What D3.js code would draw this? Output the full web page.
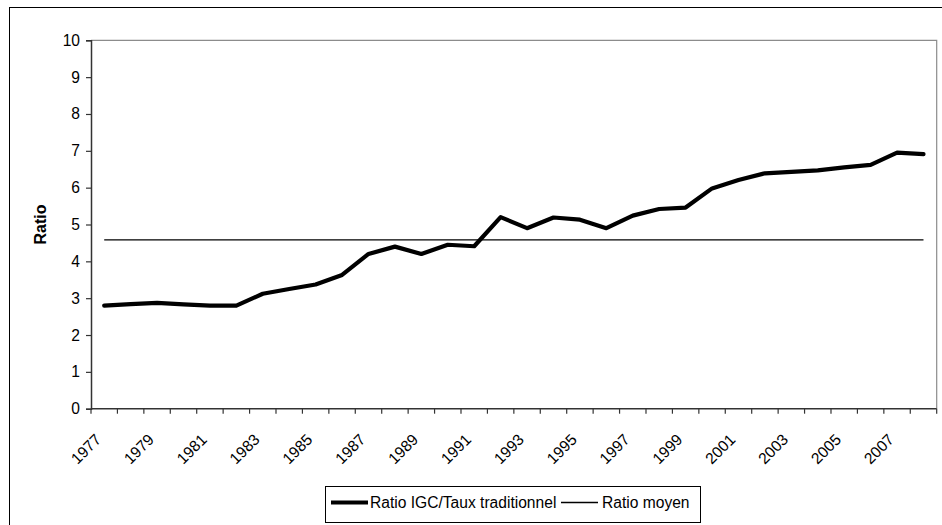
<!DOCTYPE html>
<html>
<head>
<meta charset="utf-8">
<script src="https://cdn.jsdelivr.net/npm/d3@7"></script>
<style>
  html, body { margin: 0; padding: 0; background: #fff; }
  svg { display: block; }
  text { font-family: "Liberation Sans", Arial, sans-serif; fill: #000; }
</style>
</head>
<body>
<svg id="chart" width="942" height="525"></svg>
<script>
// Years on the category axis
const years = d3.range(1977, 2009).map(String);

// Ratio IGC / taux traditionnel, one value per year
const ratioValues = [
  2.80, 2.84, 2.87, 2.83, 2.80, 2.80, 3.12, 3.25, 3.37, 3.63,
  4.20, 4.40, 4.20, 4.45, 4.41, 5.20, 4.90, 5.19, 5.13, 4.90,
  5.24, 5.42, 5.46, 5.98, 6.21, 6.39, 6.43, 6.47, 6.55, 6.62,
  6.95, 6.91
];

// Average ratio, drawn as a flat reference line
const meanRatio = 4.58;
const meanValues = years.map(() => meanRatio);

// Axis labels
const yTicks = [0, 1, 2, 3, 4, 5, 6, 7, 8, 9, 10];
const xTickLabels = years.filter((d, i) => i % 2 === 0);

const seriesNames = ["Ratio IGC/Taux traditionnel", "Ratio moyen"];
const yTitle = "Ratio";

const fontSize = "15.6px";
const svg = d3.select("#chart");

const plot = { left: 91, right: 936.7, top: 40.3, bottom: 408.7 };

const x = d3.scaleBand().domain(years).range([plot.left, plot.right]).padding(0);
const y = d3.scaleLinear().domain([0, 10]).range([plot.bottom, plot.top]);
const cx = d => x(d) + x.bandwidth() / 2;

// Outer chart frame (extends past the right and bottom edges)
svg.append("rect")
  .attr("x", 9.5).attr("y", 7.5)
  .attr("width", 1000).attr("height", 1000)
  .attr("fill", "none").attr("stroke", "#000").attr("stroke-width", 1);

// Plot area border (top and right)
svg.append("path")
  .attr("d", `M${plot.left},${plot.top}H${plot.right}V${plot.bottom}`)
  .attr("fill", "none").attr("stroke", "#8c8c8c").attr("stroke-width", 1.2);

// Y axis
const yAxis = svg.append("g")
  .attr("transform", `translate(${plot.left},0)`)
  .call(d3.axisLeft(y).tickValues(yTicks).tickSize(5).tickPadding(6).tickFormat(d3.format("d")));
yAxis.select(".domain").attr("stroke", "#333").attr("stroke-width", 1.5);
yAxis.selectAll(".tick line").attr("stroke", "#333").attr("stroke-width", 1.2);
yAxis.selectAll(".tick text")
  .style("font-family", '"Liberation Sans", Arial, sans-serif')
  .style("font-size", fontSize).attr("fill", "#000");

// X axis line with tick marks on category boundaries
const xAxis = svg.append("g");
xAxis.append("line")
  .attr("x1", plot.left).attr("x2", plot.right)
  .attr("y1", y(0)).attr("y2", y(0))
  .attr("stroke", "#333").attr("stroke-width", 1.5);
const boundaries = years.map(d => x(d)).concat([x.range()[1]]);
xAxis.selectAll("line.tick")
  .data(boundaries)
  .join("line")
  .attr("class", "tick")
  .attr("x1", d => d).attr("x2", d => d)
  .attr("y1", y(0)).attr("y2", y(0) + 5)
  .attr("stroke", "#333").attr("stroke-width", 1.2);

xAxis.selectAll("text.xlabel")
  .data(xTickLabels)
  .join("text")
  .attr("class", "xlabel")
  .attr("transform", d => `translate(${cx(d) - 6},${y(0) + 28}) rotate(-45)`)
  .attr("text-anchor", "end")
  .attr("dy", "0.35em")
  .style("font-size", fontSize)
  .text(d => d);

// Y axis title
svg.append("text")
  .attr("transform", `translate(46,${(plot.top + plot.bottom) / 2}) rotate(-90)`)
  .attr("text-anchor", "middle")
  .style("font-size", "16px")
  .style("font-weight", "bold")
  .text(yTitle);

// Series lines
const line = d3.line().x((d, i) => cx(years[i])).y(d => y(d));

svg.append("path")
  .datum(meanValues)
  .attr("d", line)
  .attr("fill", "none").attr("stroke", "#000").attr("stroke-width", 1.3);

svg.append("path")
  .datum(ratioValues)
  .attr("d", line)
  .attr("fill", "none").attr("stroke", "#000").attr("stroke-width", 4.2)
  .attr("stroke-linejoin", "round").attr("stroke-linecap", "round");

// Legend
const legend = svg.append("g");
legend.append("rect")
  .attr("x", 325.5).attr("y", 486.5)
  .attr("width", 375).attr("height", 36)
  .attr("fill", "#fff").attr("stroke", "#000").attr("stroke-width", 1);

const ly = 502.5;
legend.append("line")
  .attr("x1", 331).attr("x2", 368).attr("y1", ly).attr("y2", ly)
  .attr("stroke", "#000").attr("stroke-width", 4.2);
legend.append("text")
  .attr("x", 370).attr("y", ly).attr("dy", "0.35em")
  .style("font-size", fontSize).text(seriesNames[0]);
legend.append("line")
  .attr("x1", 561).attr("x2", 598).attr("y1", ly).attr("y2", ly)
  .attr("stroke", "#000").attr("stroke-width", 1.3);
legend.append("text")
  .attr("x", 602).attr("y", ly).attr("dy", "0.35em")
  .style("font-size", fontSize).text(seriesNames[1]);
</script>
</body>
</html>
